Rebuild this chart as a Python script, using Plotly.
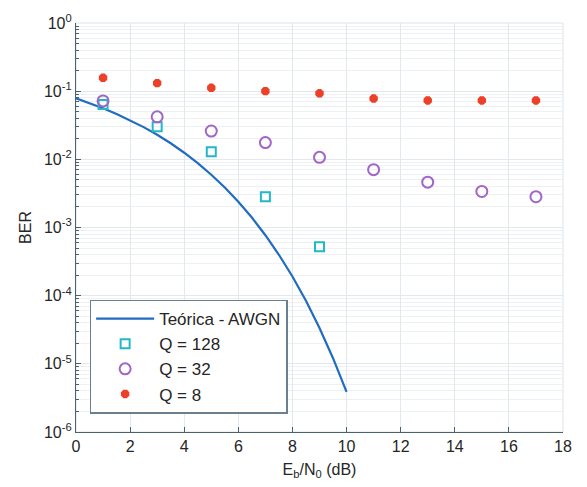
import plotly.graph_objects as go

# Theoretical curve
theo_x = [0, 0.5, 1, 1.5, 2, 2.5, 3, 3.5, 4, 4.5, 5, 5.5, 6, 6.5, 7, 7.5, 8, 8.5, 9, 9.5, 10]
theo_y = [0.0786, 0.0671, 0.0563, 0.0464, 0.0375, 0.0297, 0.0229, 0.0172, 0.0125, 0.0088,
          0.00595, 0.00386, 0.00239, 0.0014, 7.7e-4, 3.98e-4, 1.91e-4, 8.4e-5, 3.36e-5,
          1.21e-5, 3.87e-6]

q128_x = [1, 3, 5, 7, 9]
q128_y = [0.0636, 0.030, 0.0129, 0.00283, 5.2e-4]

q32_x = [1, 3, 5, 7, 9, 11, 13, 15, 17]
q32_y = [0.072, 0.042, 0.026, 0.0176, 0.0107, 0.00706, 0.00462, 0.00338, 0.00283]

q8_x = [1, 3, 5, 7, 9, 11, 13, 15, 17]
q8_y = [0.157, 0.131, 0.112, 0.100, 0.093, 0.078, 0.073, 0.073, 0.073]

x_ticks = [0, 2, 4, 6, 8, 10, 12, 14, 16, 18]
y_ticks = [1e-6, 1e-5, 1e-4, 1e-3, 1e-2, 1e-1, 1]
y_ticktext = ["10<sup>-6</sup>", "10<sup>-5</sup>", "10<sup>-4</sup>", "10<sup>-3</sup>",
              "10<sup>-2</sup>", "10<sup>-1</sup>", "10<sup>0</sup>"]

fig = go.Figure()
fig.add_trace(go.Scatter(x=theo_x, y=theo_y, mode="lines", name="Teórica - AWGN",
                         line=dict(color="#1f6cc0", width=2.2)))
fig.add_trace(go.Scatter(x=q128_x, y=q128_y, mode="markers", name="Q = 128",
                         marker=dict(symbol="square-open", size=9, color="#22b8c8",
                                     line=dict(width=2))))
fig.add_trace(go.Scatter(x=q32_x, y=q32_y, mode="markers", name="Q = 32",
                         marker=dict(symbol="circle-open", size=11, color="#a066c8",
                                     line=dict(width=2))))
fig.add_trace(go.Scatter(x=q8_x, y=q8_y, mode="markers", name="Q = 8",
                         marker=dict(symbol="asterisk-open", size=7, color="#ec4028",
                                     line=dict(width=4, color="#ec4028"))))

grid = "#e2e8ee"
axis_col = "#4a6270"
font_col = "#262626"

fig.update_layout(
    width=587, height=487,
    margin=dict(l=76, r=24, t=22, b=52),
    paper_bgcolor="white", plot_bgcolor="white",
    font=dict(family="Liberation Sans, Arial, sans-serif", size=15, color=font_col),
    showlegend=True,
    legend=dict(x=0.028, y=0.045, xanchor="left", yanchor="bottom",
                bgcolor="white", bordercolor="#6a8090", borderwidth=1.5,
                font=dict(size=17, color=font_col), tracegroupgap=0,
                itemwidth=58),
)
fig.update_xaxes(
    range=[0, 18], tickvals=x_ticks, ticks="inside", ticklen=5, tickcolor=axis_col,
    showline=True, linecolor=axis_col, linewidth=1.2, mirror=False,
    showgrid=True, gridcolor=grid, gridwidth=1, zeroline=False,
    title=dict(text="E<sub>b</sub>/N<sub>0</sub> (dB)", standoff=9, font=dict(size=16)),
    tickfont=dict(size=16),
)
fig.update_yaxes(
    type="log", range=[-6, 0], tickvals=y_ticks, ticktext=y_ticktext,
    ticks="inside", ticklen=5, tickcolor=axis_col,
    showline=True, linecolor=axis_col, linewidth=1.2,
    showgrid=True, gridcolor=grid, gridwidth=1, zeroline=False,
    minor=dict(ticks="inside", ticklen=3, tickcolor=axis_col, showgrid=True,
               gridcolor="#edf1f4", gridwidth=1, dtick="D1"),
    title=dict(text="BER", standoff=8, font=dict(size=16)),
    tickfont=dict(size=16),
)
# faint top/right box
fig.add_shape(type="rect", xref="paper", yref="paper", x0=0, y0=0, x1=1, y1=1,
              line=dict(color="#dde4ea", width=1), layer="below")

fig.write_html("out.html")
